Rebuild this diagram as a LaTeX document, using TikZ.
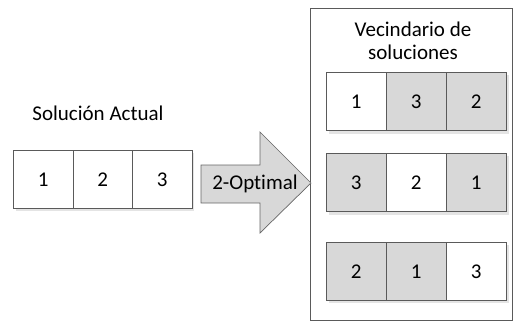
\documentclass[tikz,border=0pt]{standalone}
\usepackage{fontspec}
\setmainfont[Ligatures={NoCommon}]{Carlito}
\usetikzlibrary{positioning}
\definecolor{cellline}{HTML}{5A5A5A}
\definecolor{cellgray}{HTML}{D8D8D8}
\definecolor{shadowgray}{HTML}{E4E4E4}
\begin{document}
\begin{tikzpicture}[x=1pt,y=-1pt,
  cell/.style={draw=cellline, line width=0.8pt, minimum width=59.5pt, minimum height=58pt,
    inner sep=0pt, font=\fontsize{21}{24}\selectfont, anchor=north west},
  wcell/.style={cell, fill=white},
  gcell/.style={cell, fill=cellgray},
  lbl/.style={font=\fontsize{21}{23.5}\selectfont, align=center, inner sep=0pt},
  shadowbox/.style={fill=shadowgray, draw=none}]
\useasboundingbox (0,0) rectangle (513,321);
% container
\node[draw=cellline, line width=0.8pt, minimum width=202pt, minimum height=312pt, anchor=north west, inner sep=0pt] (cont) at (310,8) {};
\node[lbl] (ttl) at (413,41) {Vecindario de\\soluciones};
% left
\node[lbl] (sa) at (98,113) {Solución Actual};
\fill[shadowgray] (16,153) rectangle (194,211);
\node[wcell] (a1) at (13,150) {1};
\node[wcell] (a2) at (72.5,150) {2};
\node[wcell] (a3) at (132,150) {3};
% arrow
\draw[draw=gray!80!black, fill=cellgray, line width=0.7pt]
  (201,165) -- (260,165) -- (260,132) -- (311,183) -- (260,233) -- (260,203) -- (201,203) -- cycle;
\node[lbl] (opt) at (255,184) {2-Optimal};
% right rows
\fill[shadowgray] (329,75) rectangle (509,134);
\node[wcell] (r11) at (326,72) {1};
\node[gcell] (r12) at (386,72) {3};
\node[gcell] (r13) at (446,72) {2};
\fill[shadowgray] (329,156) rectangle (509,215);
\node[gcell] (r21) at (326,153) {3};
\node[wcell] (r22) at (386,153) {2};
\node[gcell] (r23) at (446,153) {1};
\fill[shadowgray] (329,245) rectangle (509,303);
\node[gcell] (r31) at (326,242) {2};
\node[gcell] (r32) at (386,242) {1};
\node[wcell] (r33) at (446,242) {3};
\end{tikzpicture}
\end{document}
